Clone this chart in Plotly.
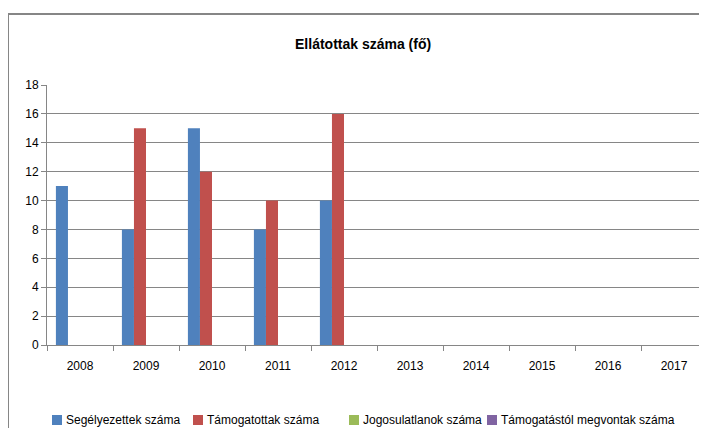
import plotly.graph_objects as go

years = ["2008", "2009", "2010", "2011", "2012", "2013", "2014", "2015", "2016", "2017"]
segelyezettek = [11, 8, 15, 8, 10, None, None, None, None, None]
tamogatottak = [None, 15, 12, 10, 16, None, None, None, None, None]
jogosulatlanok = [None] * 10
megvontak = [None] * 10

series = [
    ("Segélyezettek száma", segelyezettek, "#4F81BD"),
    ("Támogatottak száma", tamogatottak, "#C0504D"),
    ("Jogosulatlanok száma", jogosulatlanok, "#9BBB59"),
    ("Támogatástól megvontak száma", megvontak, "#8064A2"),
]

font_family = "Liberation Sans, Arial, sans-serif"

fig = go.Figure()
for name, vals, color in series:
    fig.add_trace(go.Bar(
        x=years, y=vals, name=name,
        marker=dict(color=color, line=dict(width=0)),
        showlegend=False,
    ))

# the page body adds an 8px offset, so the figure is drawn a bit smaller
W, H = 699, 420
L, T, R, B = 39, 77, 0, 83
pw, ph = W - L - R, H - T - B

fig.update_layout(
    width=W, height=H,
    margin=dict(l=L, r=R, t=T, b=B),
    paper_bgcolor="white", plot_bgcolor="white",
    barmode="group", bargap=0.27, bargroupgap=0,
    font=dict(family=font_family, size=12, color="black"),
    title=dict(text="<b>Ellátottak száma (fő)</b>", x=0.508, xanchor="center",
               yref="container", y=1 - 36 / H, yanchor="middle", font=dict(size=14)),
)
fig.update_xaxes(
    showline=True, linecolor="#868686", linewidth=1,
    ticks="outside", ticklen=5, tickcolor="#868686",
    showgrid=False, tickson="boundaries", ticklabelstandoff=10,
)
fig.update_yaxes(
    range=[0, 18], dtick=2, showline=True, linecolor="#868686", linewidth=1,
    gridcolor="#868686", gridwidth=1, ticks="outside", ticklen=5, tickcolor="#868686",
    zeroline=False,
)
fig.add_shape(type="rect", xref="paper", yref="paper",
              x0=-L / pw, x1=1.5, y0=-0.6, y1=1 + (T - 6) / ph,
              line=dict(color="#868686", width=2))

# legend drawn by hand (square + label), Excel style
legend_x = [44, 185, 341, 479]
for (name, _, color), lx in zip(series, legend_x):
    fig.add_shape(type="rect", xref="paper", yref="paper",
                  x0=(lx - L) / pw, x1=(lx + 10 - L) / pw,
                  y0=-75 / ph - 5 / ph, y1=-75 / ph + 5 / ph,
                  fillcolor=color, line=dict(width=0))
    fig.add_annotation(text=name, xref="paper", yref="paper",
                       x=(lx + 12 - L) / pw, xanchor="left",
                       y=-75 / ph, yanchor="middle", showarrow=False,
                       font=dict(size=12))

fig.write_html("out.html", config={"displayModeBar": False})
